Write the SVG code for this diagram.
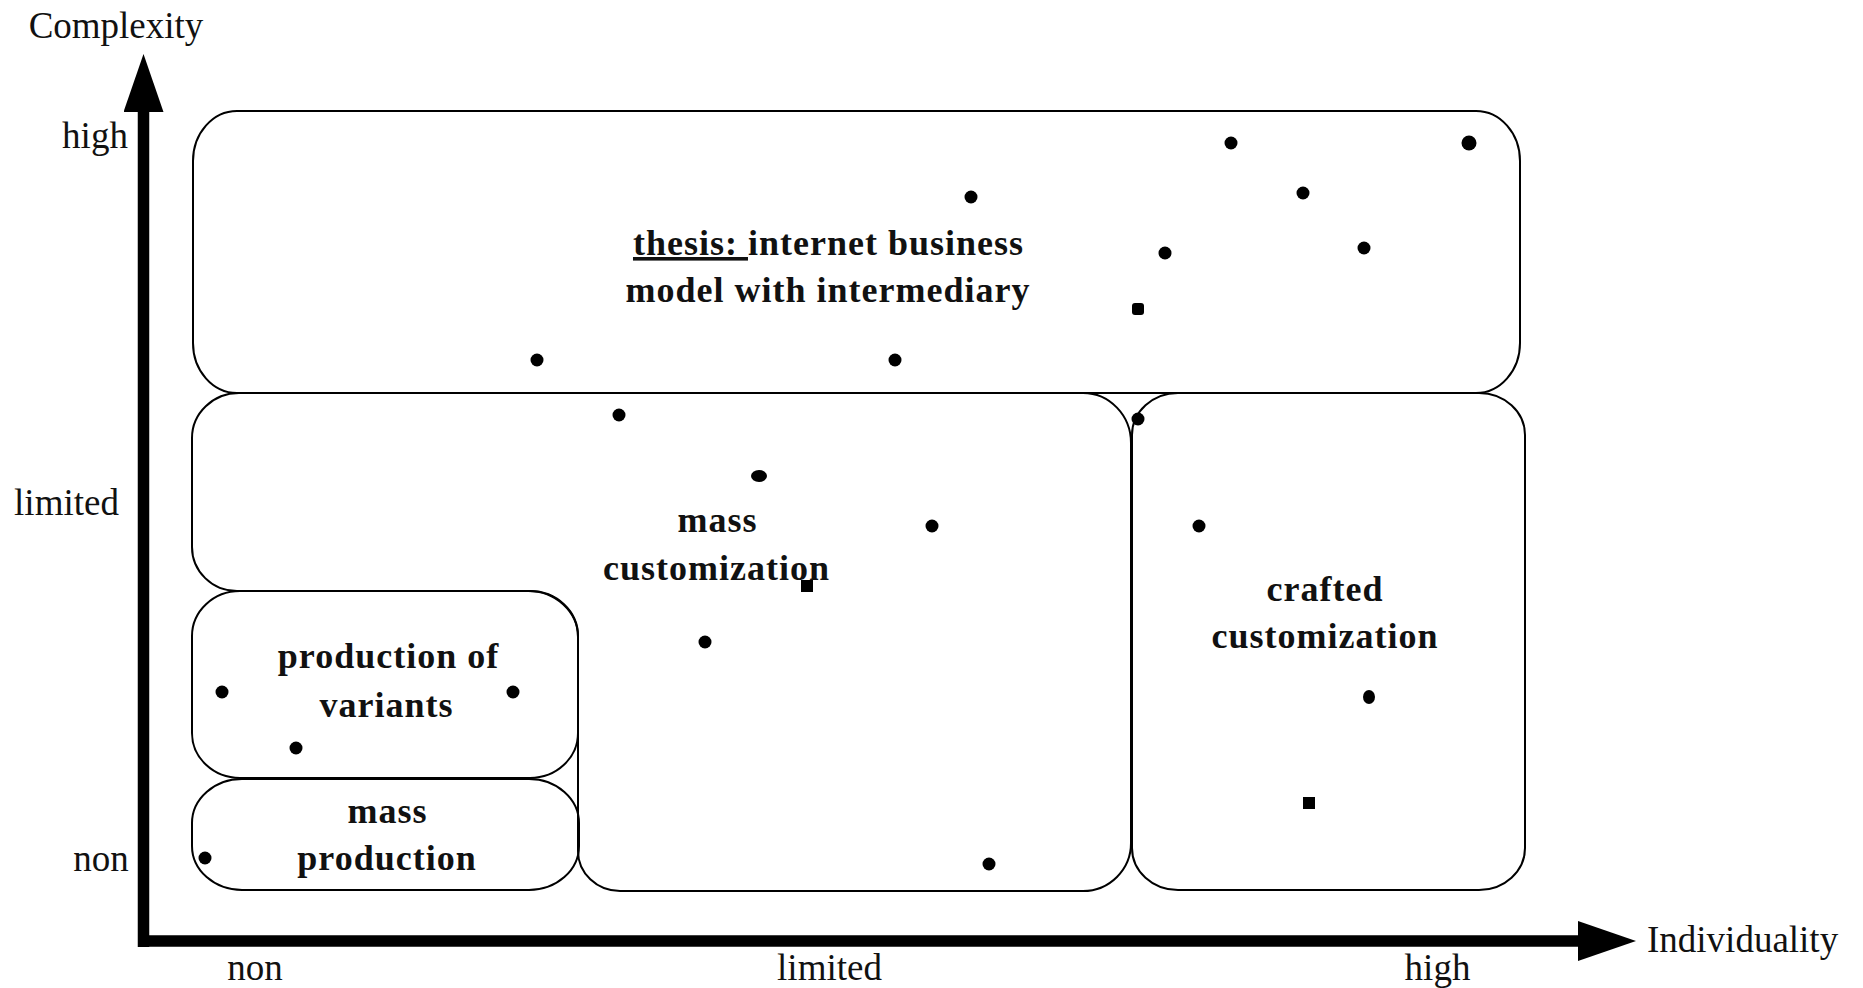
<svg xmlns="http://www.w3.org/2000/svg" width="1863" height="988" viewBox="0 0 1863 988">
  <style>
    .region { fill: none; stroke: #000; stroke-width: 2; }
    .axis { stroke: #000; stroke-width: 11.5; fill: none; }
    .tick { font-family: "Liberation Serif", "Times New Roman", serif; font-size: 37px; fill: #111; }
    .label { font-family: "Liberation Serif", "Times New Roman", serif; font-size: 36px; font-weight: bold; fill: #111; text-anchor: middle; letter-spacing: 1px; }
    .pt { fill: #000; }
  </style>
  <defs>
    <marker id="head" markerUnits="userSpaceOnUse" markerWidth="60" markerHeight="42" refX="1" refY="20" orient="auto">
      <path d="M0,0 L58,20 L0,40 Z" fill="#000"/>
    </marker>
  </defs>

  <rect width="1863" height="988" fill="#fff"/>

  <!-- axes -->
  <g id="axes">
    <line class="axis" x1="143.5" y1="947" x2="143.5" y2="111" marker-end="url(#head)"/>
    <line class="axis" x1="138" y1="941" x2="1579" y2="941" marker-end="url(#head)"/>
    <text class="tick" x="116" y="38" text-anchor="middle">Complexity</text>
    <text class="tick" x="1647" y="952">Individuality</text>
    <text class="tick" x="95" y="148" text-anchor="middle">high</text>
    <text class="tick" x="66.5" y="515" text-anchor="middle">limited</text>
    <text class="tick" x="101" y="871" text-anchor="middle">non</text>
    <text class="tick" x="255" y="980" text-anchor="middle">non</text>
    <text class="tick" x="829.5" y="980" text-anchor="middle">limited</text>
    <text class="tick" x="1437.5" y="980" text-anchor="middle">high</text>
  </g>

  <!-- connectors: none in this chart -->
  <g id="connectors"></g>

  <g id="thesis">
    <rect class="region" x="193" y="111" width="1327" height="282" rx="44" ry="50"/>
    <text class="label" x="828.5" y="255"><tspan text-decoration="underline">thesis: </tspan>internet business</text>
    <text class="label" x="828" y="302">model with intermediary</text>
  </g>

  <g id="mass-customization">
    <path class="region" d="M239,393 H1083 A48,50 0 0 1 1131,443 V843 A48,48 0 0 1 1083,891 H620 A42,40 0 0 1 578,851 V637 A50,46 0 0 0 528,591 H237 A45,44 0 0 1 192,547 V438 A47,45 0 0 1 239,393 Z"/>
    <text class="label" x="717.5" y="532">mass</text>
    <text class="label" x="716.5" y="580">customization</text>
  </g>

  <g id="production-of-variants">
    <rect class="region" x="192" y="591" width="386" height="187" rx="48" ry="45"/>
    <text class="label" x="388.5" y="668">production of</text>
    <text class="label" x="386.5" y="717">variants</text>
  </g>

  <g id="mass-production">
    <rect class="region" x="192" y="779" width="387" height="111" rx="50" ry="44"/>
    <text class="label" x="387.5" y="823">mass</text>
    <text class="label" x="387" y="870">production</text>
  </g>

  <g id="crafted-customization">
    <rect class="region" x="1132" y="393" width="393" height="497" rx="46" ry="42"/>
    <text class="label" x="1325" y="601">crafted</text>
    <text class="label" x="1325" y="648">customization</text>
  </g>

  <!-- data points -->
  <g id="points">
    <circle class="pt" cx="971" cy="197" r="6.5"/>
    <circle class="pt" cx="1231" cy="143" r="6.5"/>
    <circle class="pt" cx="1469" cy="143" r="7.5"/>
    <circle class="pt" cx="1303" cy="193" r="6.5"/>
    <circle class="pt" cx="1165" cy="253" r="6.5"/>
    <circle class="pt" cx="1364" cy="248" r="6.5"/>
    <rect class="pt" x="1132" y="303" width="12" height="12" rx="3"/>
    <circle class="pt" cx="537" cy="360" r="6.5"/>
    <circle class="pt" cx="895" cy="360" r="6.5"/>
    <circle class="pt" cx="619" cy="415" r="6.5"/>
    <ellipse class="pt" cx="759" cy="476" rx="8" ry="6"/>
    <circle class="pt" cx="932" cy="526" r="6.5"/>
    <circle class="pt" cx="1138" cy="419" r="6.5"/>
    <circle class="pt" cx="1199" cy="526" r="6.5"/>
    <rect class="pt" x="801" y="580" width="12" height="12"/>
    <circle class="pt" cx="705" cy="642" r="6.5"/>
    <circle class="pt" cx="222" cy="692" r="6.5"/>
    <circle class="pt" cx="513" cy="692" r="6.5"/>
    <circle class="pt" cx="296" cy="748" r="6.5"/>
    <circle class="pt" cx="205" cy="858" r="6.5"/>
    <circle class="pt" cx="989" cy="864" r="6.5"/>
    <ellipse class="pt" cx="1369" cy="697" rx="6" ry="7"/>
    <rect class="pt" x="1303" y="797" width="12" height="12"/>
  </g>
</svg>
